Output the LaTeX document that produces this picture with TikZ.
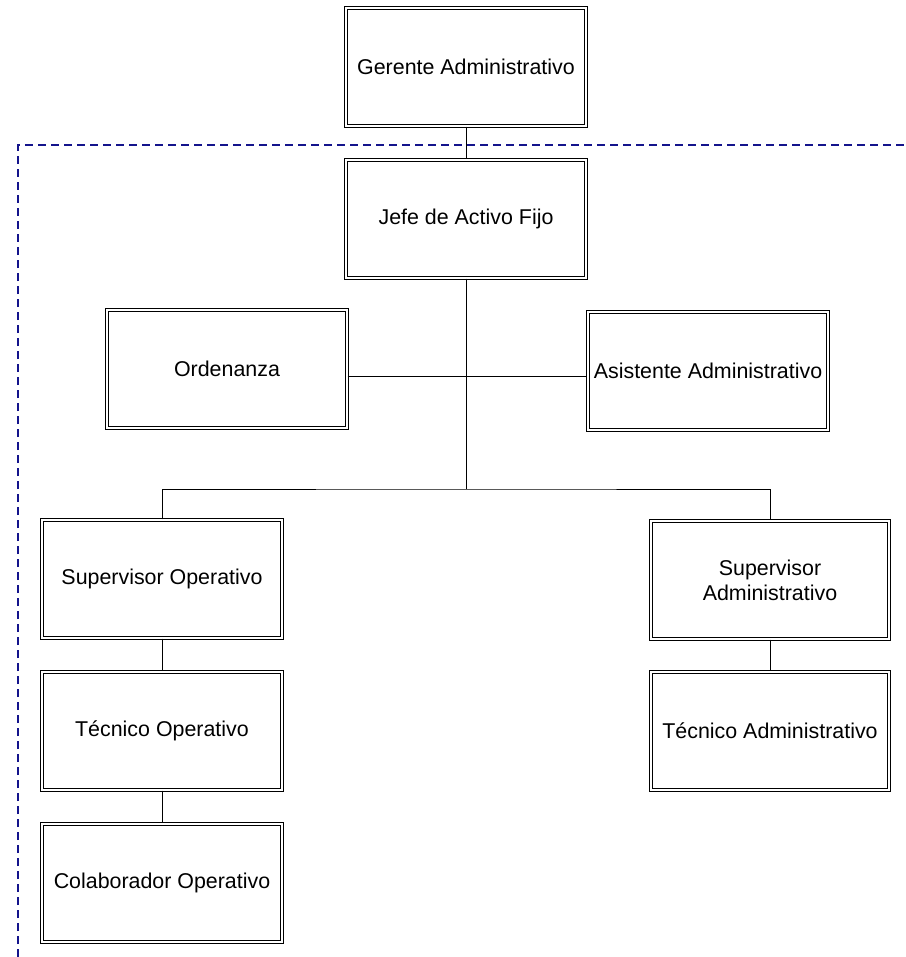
\documentclass[tikz,border=0pt]{standalone}
\usepackage{fontspec}
\setmainfont{Liberation Sans}
\begin{document}
\begin{tikzpicture}[x=1pt,y=-1pt,
  post/.style={draw=black, double=white, line width=1.2pt, double distance=1.8pt,
    rectangle, inner sep=0pt, minimum width=240, minimum height=118,
    align=center, font=\fontsize{21.4}{25}\selectfont},
  link/.style={draw=black, line width=0.9pt},
  frame/.style={draw={rgb,255:red,20;green,20;blue,140}, line width=2.3pt, dash pattern=on 8pt off 5pt}]
\useasboundingbox (0,0) rectangle (905,957);
% dashed boundary of the department
\draw[frame] (18,957) -- (18,145) -- (905,145);
% positions
\node[post] (ger) at (466,67) {Gerente Administrativo};
\node[post] (jef) at (466,219) {Jefe de Activo Fijo};
\node[post] (ord) at (227,369) {Ordenanza};
\node[post] (asi) at (708,371) {Asistente Administrativo};
\node[post] (sop) at (162,579) {Supervisor Operativo};
\node[post] (top) at (162,731) {Técnico Operativo};
\node[post] (col) at (162,883) {Colaborador Operativo};
\node[post, minimum width=238] (sad) at (770,580) {Supervisor\\Administrativo};
\node[post, minimum width=238] (tad) at (770,731) {Técnico Administrativo};
% branch point below the head of department
\coordinate (br) at (466,489);
% connectors
\draw[link] (ger.south) -- (jef.north);
\draw[link] (jef.south) -- (br);
\draw[link] ([yshift=-7]ord.east) -- ([yshift=-5]asi.west);
\draw[link] (sop.north) |- (br) -| (sad.north);
\draw[link] (sop.south) -- (top.north);
\draw[link] (top.south) -- (col.north);
\draw[link] (sad.south) -- (tad.north);
\end{tikzpicture}
\end{document}
